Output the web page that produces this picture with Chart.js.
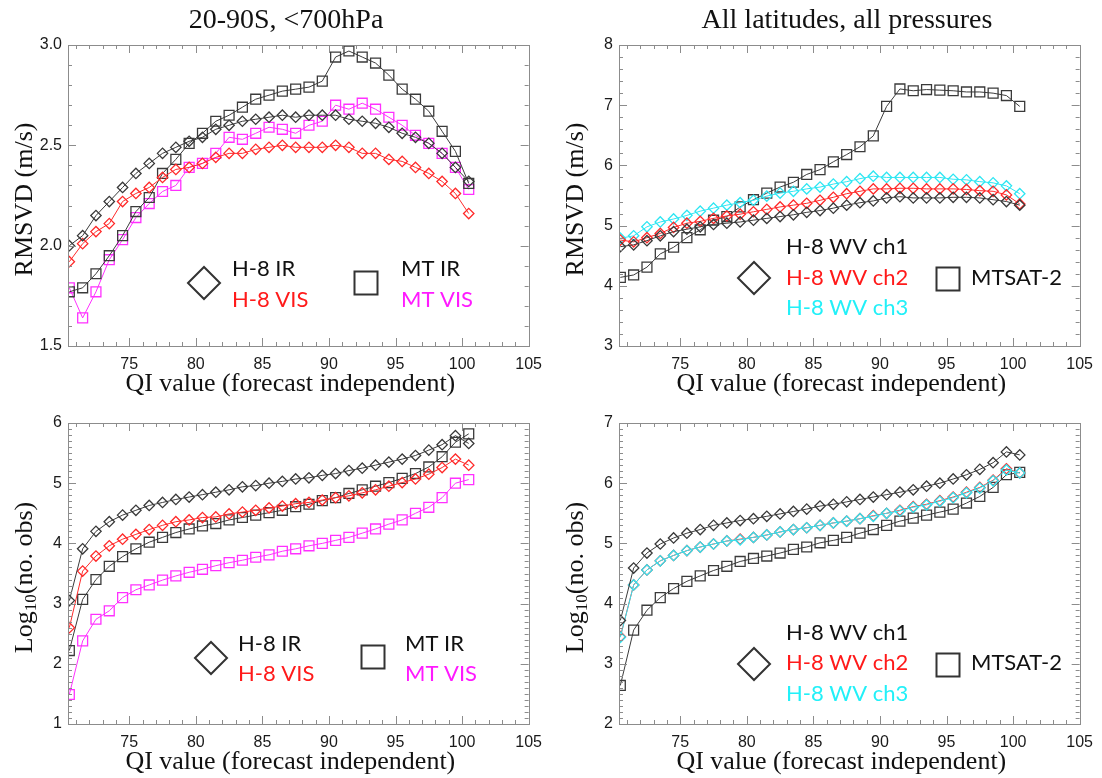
<!DOCTYPE html>
<html>
<head>
<meta charset="utf-8">
<script src="https://cdn.jsdelivr.net/npm/chart.js@4.4.1/dist/chart.umd.min.js"></script>
<style>
  html, body { margin: 0; padding: 0; background: #ffffff; }
  #wrap { position: relative; width: 1102px; height: 778px; overflow: hidden; }
  #wrap canvas { position: absolute; }
</style>
</head>
<body>
<div id="wrap">
  <canvas id="rmsSouth" width="551" height="400" style="left:0px;top:0px"></canvas>
  <canvas id="rmsAll" width="551" height="400" style="left:551px;top:0px"></canvas>
  <canvas id="obsSouth" width="551" height="389" style="left:0px;top:389px"></canvas>
  <canvas id="obsAll" width="551" height="389" style="left:551px;top:389px"></canvas>
</div>
<script>
// QI bin centres (forecast independent)
const qi = [70.5, 71.5, 72.5, 73.5, 74.5, 75.5, 76.5, 77.5, 78.5, 79.5, 80.5,
            81.5, 82.5, 83.5, 84.5, 85.5, 86.5, 87.5, 88.5, 89.5, 90.5,
            91.5, 92.5, 93.5, 94.5, 95.5, 96.5, 97.5, 98.5, 99.5, 100.5];
const xTicks = [75, 80, 85, 90, 95, 100, 105];

// 20-90S, <700hPa : RMSVD (m/s)
const rmsTicksSouth = [1.5, 2.0, 2.5, 3.0];
const h8IrRms  = [2.00, 2.05, 2.15, 2.22, 2.29, 2.36, 2.41, 2.46, 2.49, 2.52, 2.54, 2.58, 2.60, 2.62, 2.63, 2.64, 2.65, 2.64, 2.65, 2.65, 2.65, 2.63, 2.62, 2.61, 2.59, 2.56, 2.54, 2.51, 2.46, 2.39, 2.32];
const h8VisRms = [1.92, 2.01, 2.07, 2.11, 2.22, 2.26, 2.29, 2.34, 2.38, 2.39, 2.41, 2.44, 2.46, 2.46, 2.48, 2.49, 2.50, 2.49, 2.49, 2.49, 2.50, 2.49, 2.46, 2.46, 2.43, 2.42, 2.39, 2.36, 2.32, 2.26, 2.16];
const mtIrRms  = [1.77, 1.79, 1.86, 1.95, 2.05, 2.17, 2.24, 2.36, 2.43, 2.51, 2.56, 2.62, 2.65, 2.69, 2.73, 2.75, 2.77, 2.78, 2.79, 2.82, 2.94, 2.97, 2.94, 2.91, 2.85, 2.78, 2.73, 2.67, 2.57, 2.47, 2.31];
const mtVisRms = [1.79, 1.64, 1.77, 1.93, 2.03, 2.14, 2.21, 2.27, 2.30, 2.39, 2.41, 2.46, 2.54, 2.53, 2.56, 2.59, 2.58, 2.56, 2.60, 2.62, 2.70, 2.68, 2.71, 2.68, 2.64, 2.60, 2.55, 2.51, 2.46, 2.39, 2.28];

// All latitudes, all pressures : RMSVD (m/s)
const rmsTicksAll = [3, 4, 5, 6, 7, 8];
const h8Wv1Rms  = [4.65, 4.68, 4.75, 4.83, 4.90, 4.94, 4.98, 5.02, 5.04, 5.06, 5.09, 5.12, 5.15, 5.18, 5.22, 5.25, 5.29, 5.34, 5.38, 5.41, 5.46, 5.48, 5.46, 5.46, 5.46, 5.47, 5.47, 5.46, 5.43, 5.40, 5.34];
const h8Wv2Rms  = [4.76, 4.73, 4.80, 4.87, 4.97, 5.04, 5.07, 5.12, 5.16, 5.19, 5.23, 5.27, 5.31, 5.34, 5.37, 5.42, 5.47, 5.53, 5.57, 5.61, 5.61, 5.62, 5.62, 5.61, 5.61, 5.61, 5.60, 5.58, 5.57, 5.51, 5.36];
const h8Wv3Rms  = [4.79, 4.83, 4.98, 5.06, 5.11, 5.17, 5.24, 5.29, 5.34, 5.38, 5.42, 5.49, 5.54, 5.57, 5.61, 5.64, 5.69, 5.73, 5.78, 5.82, 5.80, 5.80, 5.80, 5.80, 5.80, 5.77, 5.76, 5.73, 5.71, 5.66, 5.53];
const mtsatRms  = [4.14, 4.18, 4.31, 4.53, 4.64, 4.80, 4.93, 5.09, 5.15, 5.31, 5.43, 5.54, 5.64, 5.72, 5.85, 5.93, 6.06, 6.18, 6.31, 6.49, 6.98, 7.27, 7.24, 7.26, 7.25, 7.24, 7.22, 7.22, 7.20, 7.16, 6.98];

// 20-90S, <700hPa : log10(number of observations)
const obsTicksSouth = [1, 2, 3, 4, 5, 6];
const h8IrObs  = [3.05, 3.91, 4.20, 4.36, 4.47, 4.55, 4.63, 4.68, 4.73, 4.77, 4.81, 4.85, 4.89, 4.94, 4.96, 5.00, 5.03, 5.07, 5.09, 5.13, 5.16, 5.21, 5.25, 5.30, 5.35, 5.40, 5.46, 5.55, 5.64, 5.79, 5.66];
const h8VisObs = [2.60, 3.54, 3.79, 3.96, 4.07, 4.15, 4.23, 4.30, 4.36, 4.39, 4.43, 4.44, 4.49, 4.52, 4.55, 4.59, 4.62, 4.66, 4.68, 4.72, 4.76, 4.79, 4.84, 4.89, 4.95, 5.01, 5.07, 5.15, 5.26, 5.40, 5.30];
const mtIrObs  = [2.22, 3.07, 3.40, 3.62, 3.78, 3.91, 4.02, 4.10, 4.18, 4.24, 4.29, 4.33, 4.39, 4.43, 4.47, 4.51, 4.55, 4.61, 4.65, 4.71, 4.76, 4.83, 4.89, 4.95, 5.01, 5.08, 5.16, 5.27, 5.44, 5.68, 5.82];
const mtVisObs = [1.49, 2.38, 2.74, 2.88, 3.10, 3.23, 3.31, 3.39, 3.46, 3.52, 3.57, 3.63, 3.68, 3.72, 3.77, 3.81, 3.87, 3.91, 3.96, 4.00, 4.05, 4.10, 4.17, 4.24, 4.32, 4.39, 4.50, 4.60, 4.76, 5.00, 5.06];

// All latitudes, all pressures : log10(number of observations)
const obsTicksAll = [2, 3, 4, 5, 6, 7];
const h8Wv1Obs = [3.72, 4.59, 4.84, 4.99, 5.09, 5.17, 5.23, 5.30, 5.34, 5.38, 5.41, 5.45, 5.49, 5.53, 5.57, 5.62, 5.65, 5.69, 5.73, 5.77, 5.81, 5.85, 5.89, 5.95, 6.00, 6.07, 6.14, 6.23, 6.34, 6.52, 6.47];
const h8Wv2Obs = [3.45, 4.31, 4.56, 4.71, 4.80, 4.88, 4.94, 4.99, 5.04, 5.07, 5.10, 5.14, 5.19, 5.23, 5.26, 5.30, 5.34, 5.37, 5.41, 5.46, 5.50, 5.55, 5.61, 5.65, 5.71, 5.77, 5.85, 5.93, 6.05, 6.24, 6.17];
const h8Wv3Obs = [3.44, 4.31, 4.56, 4.71, 4.80, 4.88, 4.94, 4.99, 5.04, 5.06, 5.10, 5.14, 5.19, 5.23, 5.26, 5.30, 5.34, 5.37, 5.41, 5.45, 5.50, 5.54, 5.60, 5.64, 5.70, 5.76, 5.84, 5.92, 6.04, 6.22, 6.17];
const mtsatObs = [2.64, 3.56, 3.89, 4.10, 4.25, 4.37, 4.46, 4.55, 4.62, 4.70, 4.75, 4.79, 4.84, 4.90, 4.94, 5.01, 5.05, 5.10, 5.17, 5.23, 5.30, 5.37, 5.42, 5.47, 5.52, 5.57, 5.67, 5.78, 5.93, 6.14, 6.18];

const BLACK = '#3a3a3a';
const RED = '#ff2a2a';
const MAGENTA = '#ff30ff';
const CYAN = '#2ee6f2';
const FRAME = '#8c8c8c';
const SERIF = "'Liberation Serif', 'Times New Roman', serif";
const SANS = "'Liberation Sans', Arial, sans-serif";
const LEGEND_FONT = "Lato, 'Open Sans', sans-serif";

function series(values, color, shape, order) {
  const diamond = shape === 'diamond';
  return {
    data: qi.map((q, i) => ({ x: q, y: values[i] })),
    borderColor: color,
    borderWidth: 1,
    pointStyle: diamond ? 'rectRot' : 'rect',
    pointRadius: diamond ? 5.2 : 7,
    pointBorderColor: color,
    pointBackgroundColor: 'rgba(0,0,0,0)',
    pointBorderWidth: 1.3,
    tension: 0,
    fill: false,
    order: order
  };
}

// Boxed frame with inward major/minor ticks, axis titles and the inline key
function panelDecor(spec) {
  return {
    id: 'panelDecor',
    afterDatasetsDraw(chart) {
      const ctx = chart.ctx;
      const a = chart.chartArea;
      const xs = chart.scales.x;
      const ys = chart.scales.y;
      ctx.save();
      ctx.strokeStyle = FRAME;
      ctx.lineWidth = 1;
      ctx.beginPath();
      for (let v = Math.ceil(xs.min); v <= xs.max; v++) {
        const px = Math.round(xs.getPixelForValue(v)) + 0.5;
        const len = v % 5 === 0 ? 8 : 4;
        ctx.moveTo(px, a.bottom); ctx.lineTo(px, a.bottom - len);
        ctx.moveTo(px, a.top); ctx.lineTo(px, a.top + len);
      }
      const n = Math.round((ys.max - ys.min) / spec.yMinor);
      for (let k = 0; k <= n; k++) {
        const v = ys.min + k * spec.yMinor;
        const py = Math.round(ys.getPixelForValue(v)) + 0.5;
        const len = k % spec.perMajor === 0 ? 8 : 4;
        ctx.moveTo(a.left, py); ctx.lineTo(a.left + len, py);
        ctx.moveTo(a.right, py); ctx.lineTo(a.right - len, py);
      }
      ctx.stroke();
      ctx.strokeRect(Math.round(a.left) + 0.5, Math.round(a.top) + 0.5,
                     Math.round(a.right - a.left), Math.round(a.bottom - a.top));

      // x title
      ctx.fillStyle = '#111';
      ctx.font = '26px ' + SERIF;
      ctx.textAlign = 'center';
      ctx.textBaseline = 'middle';
      ctx.fillText('QI value (forecast independent)', (a.left + a.right) / 2 - 8, a.bottom + 38);

      // y title (rotated)
      ctx.save();
      ctx.translate(a.left - 43, (a.top + a.bottom) / 2 + 4);
      ctx.rotate(-Math.PI / 2);
      ctx.textBaseline = 'middle';
      if (spec.logTitle) {
        ctx.font = '26px ' + SERIF;
        const w1 = ctx.measureText('Log').width;
        ctx.font = '17px ' + SERIF;
        const w2 = ctx.measureText('10').width;
        ctx.font = '26px ' + SERIF;
        const w3 = ctx.measureText('(no. obs)').width;
        const sx = -(w1 + w2 + w3) / 2;
        ctx.textAlign = 'left';
        ctx.fillText('Log', sx, 0);
        ctx.font = '17px ' + SERIF;
        ctx.fillText('10', sx + w1, 7);
        ctx.font = '26px ' + SERIF;
        ctx.fillText('(no. obs)', sx + w1 + w2, 0);
      } else {
        ctx.font = '26px ' + SERIF;
        ctx.textAlign = 'center';
        ctx.fillText('RMSVD (m/s)', 0, 0);
      }
      ctx.restore();

      // panel heading
      if (spec.heading) {
        ctx.font = '28px ' + SERIF;
        ctx.textAlign = 'center';
        ctx.textBaseline = 'middle';
        ctx.fillStyle = '#111';
        ctx.fillText(spec.heading, spec.headingX, 21);
      }

      // inline key
      const key = spec.key;
      ctx.strokeStyle = '#333';
      ctx.lineWidth = 2;
      const d = key.diamond;
      ctx.beginPath();
      ctx.moveTo(d[0] - 16, d[1]); ctx.lineTo(d[0], d[1] - 16);
      ctx.lineTo(d[0] + 16, d[1]); ctx.lineTo(d[0], d[1] + 16);
      ctx.closePath();
      ctx.stroke();
      const s = key.square;
      ctx.strokeRect(s[0] - 11.5, s[1] - 11.5, 23, 23);
      ctx.font = '22px ' + LEGEND_FONT;
      ctx.textAlign = 'left';
      ctx.textBaseline = 'middle';
      key.texts.forEach(t => {
        ctx.fillStyle = t.color;
        ctx.fillText(t.text, t.x, t.y);
      });
      ctx.restore();
    }
  };
}

function makePanel(id, datasets, yTicks, yDecimals, spec, top, xAxisHeight) {
  new Chart(document.getElementById(id), {
    type: 'line',
    data: { datasets: datasets },
    options: {
      responsive: false,
      animation: false,
      events: [],
      layout: { padding: { top: top, right: 17, left: 0, bottom: 0 } },
      scales: {
        x: {
          type: 'linear',
          min: 70.4,
          max: 105,
          afterBuildTicks: scale => { scale.ticks = xTicks.map(v => ({ value: v })); },
          afterFit: scale => { scale.height = xAxisHeight; },
          grid: { display: false, drawTicks: false },
          border: { display: false },
          ticks: {
            autoSkip: false, maxRotation: 0, padding: 9,
            color: '#1a1a1a', font: { family: SANS, size: 16 },
            callback: v => String(v)
          }
        },
        y: {
          type: 'linear',
          min: yTicks[0],
          max: yTicks[yTicks.length - 1],
          afterBuildTicks: scale => { scale.ticks = yTicks.map(v => ({ value: v })); },
          afterFit: scale => { scale.width = 68; },
          grid: { display: false, drawTicks: false },
          border: { display: false },
          ticks: {
            autoSkip: false, padding: 6,
            color: '#1a1a1a', font: { family: SANS, size: 16 },
            callback: v => Number(v).toFixed(yDecimals)
          }
        }
      },
      plugins: { legend: { display: false }, tooltip: { enabled: false } }
    },
    plugins: [panelDecor(spec)]
  });
}

makePanel('rmsSouth', [
  series(h8IrRms, BLACK, 'diamond', 1),
  series(h8VisRms, RED, 'diamond', 2),
  series(mtIrRms, BLACK, 'square', 3),
  series(mtVisRms, MAGENTA, 'square', 4)
], rmsTicksSouth, 1, {
  yMinor: 0.1, perMajor: 5, heading: '20-90S, <700hPa', headingX: 286,
  key: {
    diamond: [204, 283], square: [366, 283],
    texts: [
      { text: 'H-8 IR', color: '#111', x: 232, y: 269 },
      { text: 'H-8 VIS', color: '#ff1a1a', x: 232, y: 300 },
      { text: 'MT IR', color: '#111', x: 401, y: 269 },
      { text: 'MT VIS', color: '#ff1aff', x: 401, y: 300 }
    ]
  }
}, 45, 54);

makePanel('rmsAll', [
  series(h8Wv1Rms, BLACK, 'diamond', 1),
  series(h8Wv2Rms, RED, 'diamond', 2),
  series(h8Wv3Rms, CYAN, 'diamond', 3),
  series(mtsatRms, BLACK, 'square', 4)
], rmsTicksAll, 0, {
  yMinor: 0.2, perMajor: 5, heading: 'All latitudes, all pressures', headingX: 296,
  key: {
    diamond: [203, 278], square: [397, 279],
    texts: [
      { text: 'H-8 WV ch1', color: '#111', x: 235, y: 247 },
      { text: 'H-8 WV ch2', color: '#ff1a1a', x: 235, y: 278 },
      { text: 'H-8 WV ch3', color: '#22f0f8', x: 235, y: 308 },
      { text: 'MTSAT-2', color: '#111', x: 420, y: 278 }
    ]
  }
}, 45, 54);

makePanel('obsSouth', [
  series(h8IrObs, BLACK, 'diamond', 1),
  series(h8VisObs, RED, 'diamond', 2),
  series(mtIrObs, BLACK, 'square', 3),
  series(mtVisObs, MAGENTA, 'square', 4)
], obsTicksSouth, 0, {
  yMinor: 0.1, perMajor: 10, logTitle: true,
  key: {
    diamond: [211, 269], square: [373, 268],
    texts: [
      { text: 'H-8 IR', color: '#111', x: 238, y: 255 },
      { text: 'H-8 VIS', color: '#ff1a1a', x: 238, y: 285 },
      { text: 'MT IR', color: '#111', x: 405, y: 255 },
      { text: 'MT VIS', color: '#ff1aff', x: 405, y: 285 }
    ]
  }
}, 34, 54);

makePanel('obsAll', [
  series(h8Wv1Obs, BLACK, 'diamond', 1),
  series(h8Wv2Obs, RED, 'diamond', 3),
  series(h8Wv3Obs, CYAN, 'diamond', 2),
  series(mtsatObs, BLACK, 'square', 4)
], obsTicksAll, 0, {
  yMinor: 0.1, perMajor: 10, logTitle: true,
  key: {
    diamond: [203, 275], square: [397, 276],
    texts: [
      { text: 'H-8 WV ch1', color: '#111', x: 235, y: 244 },
      { text: 'H-8 WV ch2', color: '#ff1a1a', x: 235, y: 274 },
      { text: 'H-8 WV ch3', color: '#22f0f8', x: 235, y: 305 },
      { text: 'MTSAT-2', color: '#111', x: 420, y: 274 }
    ]
  }
}, 34, 54);
</script>
</body>
</html>
